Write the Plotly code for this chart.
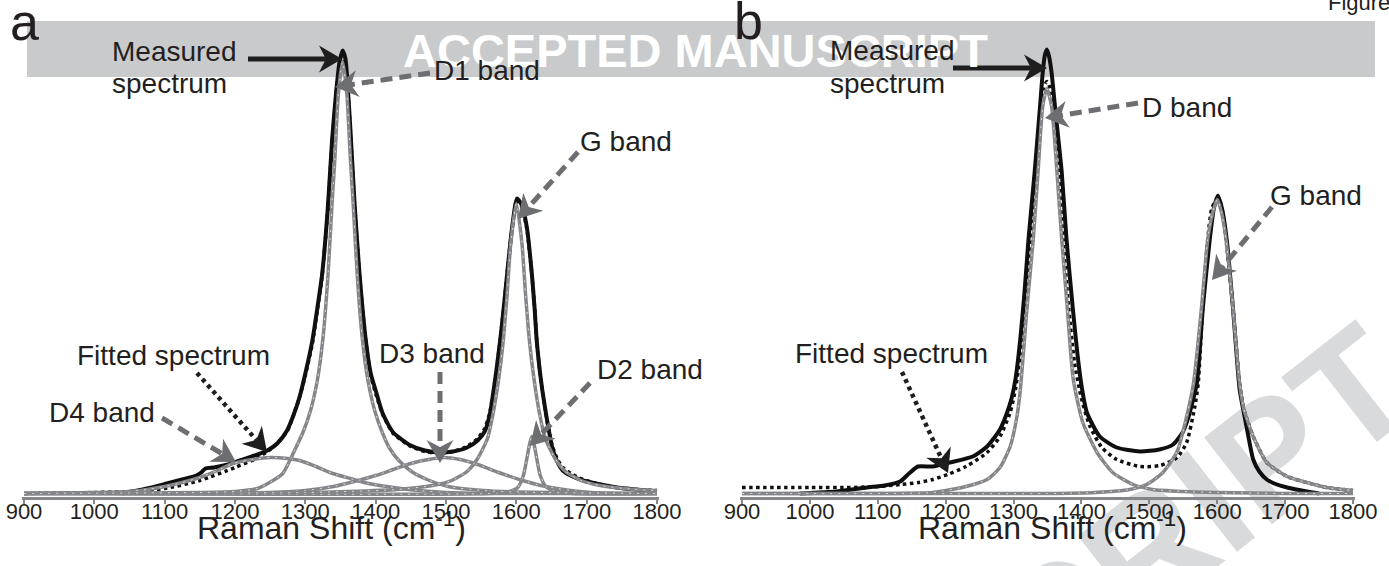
import math
import plotly.graph_objects as go

W, H = 1389, 566

# ---------------- data : panel a ----------------
a_meas_x = [1040, 1075, 1103, 1125, 1145, 1152, 1158, 1170, 1190, 1207, 1228, 1246, 1260, 1274, 1283, 1292,
            1300, 1310, 1317, 1324, 1332, 1338, 1344, 1349, 1353, 1357, 1360, 1364, 1370, 1377, 1386, 1393,
            1400, 1410, 1425, 1450, 1470, 1490, 1510, 1530, 1545, 1555, 1562, 1567, 1572, 1577, 1582, 1587,
            1594, 1601, 1608, 1615, 1622, 1626, 1629, 1633, 1637, 1644, 1651, 1658, 1666, 1680, 1695, 1720,
            1743, 1770, 1800]
a_meas_y = [0, 5, 10, 14, 18, 21, 25, 26, 29, 33, 38, 43, 50, 63, 78, 97,
            120, 153, 185, 220, 286, 353, 403, 433, 443, 435, 410, 365, 290, 220, 153, 120,
            103, 80, 61, 48, 43, 41, 42, 46, 53, 62, 78, 100, 125, 153, 185, 220,
            266, 295, 288, 266, 220, 185, 153, 125, 103, 72, 46, 32, 23, 17, 13, 9,
            6, 4, 2]

a_fit_x = [900, 1000, 1050, 1100, 1150, 1200, 1230, 1246, 1260, 1274, 1283, 1292, 1300, 1310, 1317, 1324,
           1332, 1338, 1344, 1349, 1353, 1357, 1360, 1364, 1370, 1377, 1386, 1393, 1400, 1410, 1425, 1450,
           1470, 1490, 1510, 1530, 1545, 1555, 1562, 1567, 1572, 1577, 1582, 1587, 1594, 1601, 1608, 1615,
           1622, 1626, 1629, 1633, 1637, 1644, 1651, 1658, 1666, 1680, 1695, 1720, 1743, 1770, 1800]
a_fit_y = [0, 1, 2, 5, 13, 26, 35, 42, 50, 62, 78, 97, 118, 150, 183, 218,
           284, 350, 400, 430, 438, 430, 408, 362, 288, 218, 152, 118, 100, 79, 60, 47,
           42, 40, 42, 47, 55, 65, 80, 100, 125, 153, 185, 220, 266, 292, 286, 264,
           220, 185, 153, 125, 103, 72, 48, 35, 26, 19, 14, 9, 6, 4, 3]

a_d1_x = [900, 1050, 1150, 1200, 1232, 1254, 1268, 1280, 1288, 1296, 1307, 1317, 1325, 1332, 1338, 1342,
          1347, 1353, 1359, 1364, 1368, 1374, 1381, 1389, 1399, 1410, 1420, 1433, 1451, 1473, 1503, 1553,
          1600, 1700, 1800]
a_d1_y = [0, 0.5, 1, 2, 5, 13, 20, 36, 48, 60, 82, 113, 155, 216, 290, 335,
          400, 432, 400, 335, 290, 216, 155, 113, 82, 60, 45, 33, 22, 14, 7, 3,
          1.5, 0.5, 0]

a_d2_x = [900, 1560, 1590, 1602, 1610, 1615, 1619, 1622, 1625, 1629, 1634, 1642, 1652, 1680, 1800]
a_d2_y = [0, 0, 2, 6, 18, 35, 50, 57, 50, 35, 18, 7, 3, 0, 0]

a_d3_x = [900, 1200, 1250, 1300, 1340, 1375, 1400, 1425, 1450, 1475, 1497, 1520, 1545, 1575, 1609, 1635,
          1658, 1690, 1730, 1800]
a_d3_y = [0, 0, 1, 3, 7, 13, 18, 24, 30, 34, 36, 34, 29, 21, 13, 8,
          5, 2, 0, 0]

a_d4_x = [900, 1000, 1050, 1075, 1100, 1125, 1150, 1175, 1197, 1225, 1250, 1275, 1292, 1315, 1339, 1364,
          1390, 1425, 1460, 1500, 1550, 1800]
a_d4_y = [0, 1, 2, 4, 7, 11, 16, 23, 30, 34, 36, 35, 33, 27, 20, 15,
          10, 6, 3, 1, 0, 0]

a_g_x = [900, 1300, 1360, 1431, 1481, 1508, 1530, 1545, 1559, 1567, 1575, 1581, 1587, 1592, 1600, 1608,
         1613, 1619, 1625, 1633, 1641, 1655, 1670, 1692, 1719, 1769, 1800]
a_g_y = [0, 1, 2, 4, 8, 13, 22, 35, 55, 80, 115, 150, 200, 250, 290, 250,
         200, 150, 115, 80, 55, 35, 22, 13, 8, 4, 3]

# ---------------- data : panel b ----------------
b_meas_x = [985, 1040, 1084, 1110, 1133, 1146, 1159, 1181, 1206, 1240, 1261, 1280, 1290, 1297, 1303, 1310,
            1316, 1322, 1331, 1339, 1343, 1346, 1349, 1352, 1356, 1361, 1371, 1378, 1387, 1394, 1401, 1408,
            1427, 1452, 1486, 1515, 1535, 1549, 1557, 1563, 1570, 1579, 1589, 1595, 1601, 1607, 1614, 1623,
            1633, 1638, 1644, 1653, 1662, 1673, 1688, 1703, 1732, 1750]
b_meas_y = [0, 2, 6, 8, 12, 20, 27, 27, 31, 37, 47, 64, 80, 95, 115, 155,
            200, 254, 321, 387, 421, 438, 444, 438, 421, 387, 321, 254, 187, 140, 104, 81,
            57, 46, 42, 44, 49, 61, 75, 90, 110, 187, 254, 285, 298, 285, 254, 187,
            104, 85, 64, 34, 22, 14, 9, 6, 2, 0]

b_fit_x = [900, 1000, 1060, 1100, 1133, 1160, 1181, 1203, 1230, 1261, 1280, 1295, 1303, 1310, 1318, 1326,
           1334, 1340, 1344, 1349, 1354, 1358, 1366, 1373, 1381, 1390, 1400, 1412, 1430, 1452, 1486, 1516,
           1541, 1555, 1567, 1572, 1578, 1586, 1592, 1600, 1607, 1613, 1623, 1633, 1639, 1646, 1653, 1673,
           1703, 1732, 1761, 1800]
b_fit_y = [6, 6, 6, 7, 9, 11, 14, 19, 27, 41, 57, 81, 105, 140, 187, 254,
           321, 380, 405, 412, 405, 380, 321, 254, 187, 130, 95, 68, 46, 34, 27, 28,
           36, 51, 87, 110, 180, 254, 285, 295, 285, 254, 187, 110, 85, 70, 57, 31,
           17, 11, 6, 3]

b_d_x = [900, 1100, 1181, 1230, 1261, 1280, 1295, 1305, 1310, 1320, 1329, 1336, 1343, 1349, 1356, 1364,
         1371, 1379, 1388, 1402, 1423, 1446, 1476, 1505, 1550, 1600, 1700, 1800]
b_d_y = [0, 0, 1, 7, 14, 26, 47, 77, 104, 187, 254, 321, 387, 405, 387, 321,
         254, 187, 114, 71, 41, 21, 9, 4, 2, 1, 0, 0]

b_g_x = [900, 1350, 1420, 1471, 1496, 1520, 1541, 1555, 1565, 1577, 1586, 1593, 1600, 1606, 1613, 1623,
         1633, 1639, 1646, 1653, 1673, 1703, 1732, 1761, 1800]
b_g_y = [0, 0, 1, 4, 9, 21, 42, 77, 110, 187, 254, 280, 294, 282, 254, 187,
         110, 85, 70, 57, 31, 17, 11, 6, 3]

tick_vals = [900, 1000, 1100, 1200, 1300, 1400, 1500, 1600, 1700, 1800]
tick_text = [str(v) for v in tick_vals]
x_title = "Raman Shift (cm<sup>-1</sup>)"

# ---------------- styles ----------------
BLACK = "#111111"
GRAY = "#85868a"
ARROW_GRAY = "#6d6e71"
TXT = "#231f20"
FONT = "Liberation Sans, Arial, Helvetica, sans-serif"

fig = go.Figure()


def add_line(xs, ys, color, width, dash, xa, ya, opacity=1.0):
    xs, ys = list(xs), list(ys)
    assert len(xs) == len(ys)
    fig.add_trace(go.Scatter(
        x=xs, y=ys, mode="lines", xaxis=xa, yaxis=ya, opacity=opacity,
        line=dict(color=color, width=width, dash=dash, shape="spline", smoothing=0.6),
        hoverinfo="skip", showlegend=False))


for xa, ya, meas, fit, bands in [
    ("x", "y", (a_meas_x, a_meas_y), (a_fit_x, a_fit_y),
     [(a_d4_x, a_d4_y), (a_d3_x, a_d3_y), (a_d2_x, a_d2_y), (a_g_x, a_g_y), (a_d1_x, a_d1_y)]),
    ("x2", "y2", (b_meas_x, b_meas_y), (b_fit_x, b_fit_y),
     [(b_g_x, b_g_y), (b_d_x, b_d_y)]),
]:
    add_line(meas[0], meas[1], BLACK, 4, "solid", xa, ya)
    add_line(fit[0], fit[1], BLACK, 3.5, "dot", xa, ya)
    for bx, by in bands:
        add_line(bx, by, GRAY, 3.5, "solid", xa, ya)
        add_line(bx, by, "white", 1, "2px,6px", xa, ya, opacity=0.7)

# ---------------- axes ----------------
Y0 = 493.5          # pixel row of zero intensity
XMIN, XMAX = 897, 1803


def xdomain(px900, px1800):
    s = (px1800 - px900) / 900.0
    return [(px900 + (XMIN - 900) * s) / W, (px900 + (XMAX - 900) * s) / W]


ydom = [1 - (Y0 + 3) / H, 1 - (Y0 - 457) / H]

xcommon = dict(range=[XMIN, XMAX], tickmode="array", tickvals=tick_vals, ticktext=tick_text,
               ticks="outside", ticklen=4, tickwidth=2, tickcolor=GRAY,
               showline=True, linecolor=GRAY, linewidth=3, automargin=False,
               showgrid=False, zeroline=False, ticklabelstandoff=-11,
               tickfont=dict(family=FONT, size=22, color=TXT), fixedrange=True)
ycommon = dict(range=[-3, 457], domain=ydom, visible=False, fixedrange=True, automargin=False)

fig.update_layout(
    template="none",
    width=W, height=H, margin=dict(l=0, r=0, t=0, b=0, pad=0), autosize=False,
    paper_bgcolor="white", plot_bgcolor="rgba(0,0,0,0)",
    xaxis=dict(domain=xdomain(24, 657), anchor="y", **xcommon),
    yaxis=dict(anchor="x", **ycommon),
    xaxis2=dict(domain=xdomain(742, 1353), anchor="y2", **xcommon),
    yaxis2=dict(anchor="x2", **ycommon),
)

# ---------------- annotations / arrows (pixel helpers) ----------------
shapes = []
anns = []


def P(x, y):
    return x / W, 1 - y / H


def arrow(x0, y0, x1, y1, color, width, dash="solid", hl=23, hw=27):
    dx, dy = x1 - x0, y1 - y0
    L = math.hypot(dx, dy)
    ux, uy = dx / L, dy / L
    nx, ny = -uy, ux
    bx, by = x1 - hl * ux, y1 - hl * uy
    mx, my = x1 - 0.7 * hl * ux, y1 - 0.7 * hl * uy
    X0, Y0_ = P(x0, y0)
    X1, Y1 = P(mx, my)
    shapes.append(dict(type="line", xref="paper", yref="paper", x0=X0, y0=Y0_, x1=X1, y1=Y1,
                       line=dict(color=color, width=width, dash=dash)))
    pts = [(x1, y1), (bx + nx * hw / 2, by + ny * hw / 2), (mx, my), (bx - nx * hw / 2, by - ny * hw / 2)]
    path = "M " + " L ".join("%.5f,%.5f" % P(a, b) for a, b in pts) + " Z"
    shapes.append(dict(type="path", xref="paper", yref="paper", path=path,
                       fillcolor=color, line=dict(width=0)))


def label(x, base, text, size=28, anchor="left", color=TXT, bold=False, angle=0):
    X, _ = P(x, 0)
    Yc = base - 0.3465 * size
    anns.append(dict(xref="paper", yref="paper", x=X, y=1 - Yc / H, xanchor=anchor, yanchor="middle",
                     text=("<b>%s</b>" % text) if bold else text, showarrow=False, textangle=angle,
                     font=dict(family=FONT, size=size, color=color)))


# banner behind everything
bx0, by0 = P(27, 21)
bx1, by1 = P(1375, 77)
shapes.append(dict(type="rect", xref="paper", yref="paper", x0=bx0, y0=by1, x1=bx1, y1=by0,
                   fillcolor="#c9cacc", line=dict(width=0), layer="below"))

# diagonal watermark (partly visible), drawn below curves and tick labels
wx, wy = P(1150, 530)
shapes.append(dict(type="rect", xref="paper", yref="paper", x0=wx - 0.005, x1=wx + 0.005,
                   y0=wy - 0.005, y1=wy + 0.005, line=dict(width=0), fillcolor="rgba(0,0,0,0)",
                   layer="below",
                   label=dict(text="SCRIPT", textangle=-38, textposition="middle center",
                              font=dict(family=FONT, size=160, color="#d9dadc", weight="bold"))))

label(696, 67, "ACCEPTED MANUSCRIPT", size=47, anchor="center", color="white", bold=True)
label(1326, 10, "Figure", size=22)

GRAYDASH = "12px,7px"
DOTS = "4px,4px"

# panel a
label(24, 40, "a", size=52, anchor="center")
label(110, 61, "Measured")
label(110, 93, "spectrum")
arrow(248, 59, 342, 59, "#1e1e1e", 5)
label(432, 80, "D1 band")
arrow(430, 73, 335, 87, ARROW_GRAY, 5, GRAYDASH)
label(578, 151, "G band")
arrow(578, 152, 518, 219, ARROW_GRAY, 5, GRAYDASH)
label(377, 363, "D3 band")
arrow(440, 372, 440, 463, ARROW_GRAY, 5, GRAYDASH)
label(595, 379, "D2 band")
arrow(590, 383, 530, 446, ARROW_GRAY, 5, GRAYDASH)
label(75, 365, "Fitted spectrum")
arrow(197, 373, 267, 452, "#1e1e1e", 4.5, DOTS)
label(47, 422, "D4 band")
arrow(162, 418, 236, 462, ARROW_GRAY, 5, GRAYDASH)
label(331, 537, x_title, size=32, anchor="center")

# panel b
label(748, 39, "b", size=52, anchor="center")
label(828, 60, "Measured")
label(828, 93, "spectrum")
arrow(953, 68, 1047, 68, "#1e1e1e", 5)
label(1140, 117, "D band")
arrow(1138, 103, 1045, 118, ARROW_GRAY, 5, GRAYDASH)
label(1268, 205, "G band")
arrow(1272, 207, 1212, 280, ARROW_GRAY, 5, GRAYDASH)
label(793, 363, "Fitted spectrum")
arrow(902, 372, 948, 473, "#1e1e1e", 4.5, DOTS)
label(1052, 537, x_title, size=32, anchor="center")

fig.update_layout(shapes=shapes, annotations=anns)
fig.write_html("out.html", config={"displayModeBar": False},
               post_script="document.body.style.margin='0';document.body.style.padding='0';")
